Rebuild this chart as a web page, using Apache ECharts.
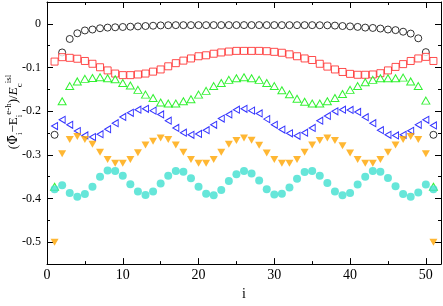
<!DOCTYPE html>
<html><head><meta charset="utf-8">
<script src="https://cdn.jsdelivr.net/npm/echarts@6/dist/echarts.min.js"></script>
<style>html,body{margin:0;padding:0;background:#fff}#c{width:443px;height:306px}</style>
</head><body><div id="c"></div>
<script>
const iValues = [1,2,3,4,5,6,7,8,9,10,11,12,13,14,15,16,17,18,19,20,21,22,23,24,25,26,27,28,29,30,31,32,33,34,35,36,37,38,39,40,41,42,43,44,45,46,47,48,49,50,51];

const blackCircles = [-0.254,-0.0655,-0.0346,-0.0216,-0.0151,-0.0130,-0.0101,-0.0086,-0.0079,-0.0072,
  -0.0065,-0.0058,-0.0050,-0.0043,-0.0036,-0.0032,-0.0030,-0.0030,-0.0030,-0.0030,
  -0.0030,-0.0029,-0.0029,-0.0029,-0.0029,-0.0029,-0.0029,-0.0029,-0.0029,-0.0029,
  -0.0030,-0.0030,-0.0030,-0.0030,-0.0030,-0.0032,-0.0034,-0.0040,-0.0050,-0.0058,
  -0.0070,-0.0086,-0.0094,-0.0108,-0.0130,-0.0144,-0.0180,-0.0223,-0.0331,-0.0648,-0.254];

const redSquares = [-0.0864,-0.0763,-0.0778,-0.0799,-0.0850,-0.0914,-0.0994,-0.1066,-0.1138,-0.1174,
  -0.1174,-0.1159,-0.1138,-0.1094,-0.1044,-0.0972,-0.0900,-0.0842,-0.0792,-0.0742,
  -0.0720,-0.0684,-0.0655,-0.0634,-0.0619,-0.0619,-0.0619,-0.0619,-0.0626,-0.0641,
  -0.0662,-0.0698,-0.0742,-0.0792,-0.0828,-0.0914,-0.0979,-0.1044,-0.1102,-0.1145,
  -0.1166,-0.1166,-0.1159,-0.1130,-0.1066,-0.0986,-0.0922,-0.0850,-0.0792,-0.0756,-0.0850];

const greenTriangles = [-0.373,-0.1771,-0.1425,-0.1318,-0.1260,-0.1238,-0.1224,-0.1246,-0.1267,-0.1353,
  -0.1411,-0.1512,-0.1620,-0.1699,-0.1800,-0.1822,-0.1822,-0.1771,-0.1728,-0.1620,
  -0.1534,-0.1425,-0.1353,-0.1282,-0.1246,-0.1224,-0.1246,-0.1282,-0.1353,-0.1425,
  -0.1519,-0.1613,-0.1713,-0.1785,-0.1822,-0.1822,-0.1771,-0.1699,-0.1605,-0.1512,
  -0.1425,-0.1339,-0.1282,-0.1246,-0.1246,-0.1246,-0.1231,-0.1318,-0.1425,-0.1757,-0.373];

const blueTriangles = [-0.2340,-0.2196,-0.2311,-0.2455,-0.2556,-0.2592,-0.2527,-0.2412,-0.2275,-0.2131,
  -0.2037,-0.1965,-0.1944,-0.1987,-0.2073,-0.2217,-0.2383,-0.2491,-0.2541,-0.2520,
  -0.2434,-0.2311,-0.2167,-0.2073,-0.1965,-0.1944,-0.1987,-0.2052,-0.2181,-0.2311,
  -0.2419,-0.2505,-0.2563,-0.2491,-0.2383,-0.2217,-0.2109,-0.2001,-0.1965,-0.1972,
  -0.2016,-0.2138,-0.2275,-0.2434,-0.2541,-0.2556,-0.2541,-0.2448,-0.2311,-0.2196,-0.2326];

const orangeTriangles = [-0.500,-0.2973,-0.2649,-0.2577,-0.2649,-0.2757,-0.2937,-0.3103,-0.3189,-0.3189,
  -0.3103,-0.2952,-0.2772,-0.2685,-0.2613,-0.2649,-0.2772,-0.2937,-0.3103,-0.3189,
  -0.3189,-0.3103,-0.2937,-0.2757,-0.2671,-0.2613,-0.2664,-0.2779,-0.2959,-0.3103,
  -0.3189,-0.3189,-0.3103,-0.2937,-0.2772,-0.2671,-0.2613,-0.2671,-0.2793,-0.2959,
  -0.3103,-0.3189,-0.3189,-0.3103,-0.2937,-0.2772,-0.2649,-0.2577,-0.2649,-0.2973,-0.500];

const cyanCircles = [-0.3787,-0.3693,-0.3873,-0.3960,-0.3895,-0.3729,-0.3499,-0.3355,-0.3369,-0.3477,
  -0.3672,-0.3837,-0.3917,-0.3837,-0.3657,-0.3477,-0.3369,-0.3384,-0.3535,-0.3729,
  -0.3888,-0.3924,-0.3801,-0.3600,-0.3441,-0.3369,-0.3427,-0.3585,-0.3787,-0.3909,
  -0.3888,-0.3744,-0.3549,-0.3391,-0.3369,-0.3477,-0.3643,-0.3837,-0.3924,-0.3873,
  -0.3679,-0.3499,-0.3369,-0.3384,-0.3527,-0.3715,-0.3895,-0.3960,-0.3859,-0.3679,-0.3787];

const xMajorTicks = [0,10,20,30,40,50];
const xMinorTicks = [5,15,25,35,45];
const yMajorTicks = [-0.5,-0.4,-0.3,-0.2,-0.1,0];
const yMinorTicks = [-0.55,-0.45,-0.35,-0.25,-0.15,-0.05,0.05];

const FONT = '"Liberation Serif","DejaVu Serif",serif';
const pairs = arr => iValues.map((x, k) => [x, arr[k]]);

function xAx(pos, ticks, len, showLine, showLabel, extra) {
  return Object.assign({
    type: 'value', min: 0, max: 52, position: pos,
    axisLine: { show: showLine, onZero: false, lineStyle: { color: '#000', width: 1 } },
    axisTick: { show: true, inside: true, length: len, customValues: ticks, lineStyle: { color: '#000', width: 1 } },
    axisLabel: { show: showLabel, customValues: ticks, color: '#000', fontFamily: FONT, fontSize: 14, margin: 4 },
    splitLine: { show: false }
  }, extra || {});
}
function yAx(pos, ticks, len, showLine, showLabel) {
  return {
    type: 'value', min: -0.55, max: 0.05, position: pos,
    axisLine: { show: showLine, onZero: false, lineStyle: { color: '#000', width: 1 } },
    axisTick: { show: true, inside: true, length: len, customValues: ticks, lineStyle: { color: '#000', width: 1 } },
    axisLabel: { show: showLabel, customValues: ticks, color: '#000', fontFamily: FONT, fontSize: 12, margin: 6,
      formatter: v => (Math.abs(v) < 1e-9 ? '0' : String(Math.round(v * 10) / 10)) },
    splitLine: { show: false }
  };
}

const openStyle = c => ({ color: '#fff', borderColor: c, borderWidth: 1 });

const option = {
  animation: false,
  backgroundColor: '#fff',
  grid: { left: 47, right: 2, top: 2, bottom: 29, containLabel: false },
  xAxis: [
    xAx('bottom', xMajorTicks, 6, true, true, {
      name: 'i', nameLocation: 'middle', nameGap: 18,
      nameTextStyle: { color: '#000', fontFamily: FONT, fontSize: 14 }
    }),
    xAx('bottom', xMinorTicks, 3, false, false),
    xAx('top', xMajorTicks, 6, true, false),
    xAx('top', xMinorTicks, 3, false, false)
  ],
  yAxis: [
    yAx('left', yMajorTicks, 6, true, true),
    yAx('left', yMinorTicks, 3, false, false),
    yAx('right', yMajorTicks, 6, true, false),
    yAx('right', yMinorTicks, 3, false, false)
  ],
  series: [
    { type: 'scatter', data: pairs(blackCircles), symbol: 'circle', symbolSize: 7, itemStyle: openStyle('#000') },
    { type: 'scatter', data: pairs(redSquares), symbol: 'rect', symbolSize: 7, itemStyle: openStyle('#ff2020') },
    { type: 'scatter', data: pairs(greenTriangles), symbol: 'path://M5,0L10,9L0,9Z', symbolSize: [8, 7], itemStyle: openStyle('#00ee00') },
    { type: 'scatter', data: pairs(blueTriangles), symbol: 'path://M0,5L9,0L9,10Z', symbolSize: [6, 7], itemStyle: openStyle('#0000ff') },
    { type: 'scatter', data: pairs(orangeTriangles), symbol: 'path://M0,0L10,0L5,9Z', symbolSize: [8, 7], itemStyle: { color: '#ffa500' } },
    { type: 'scatter', data: pairs(cyanCircles), symbol: 'circle', symbolSize: 8, itemStyle: { color: '#40e0d0' } }
  ],
  graphic: [{
    type: 'text', x: 14, y: 112, rotation: Math.PI / 2,
    style: {
      text: '{m|(}{dj|\u03A6\u0304}{sb|i}{m|\u2212E}{sb|i}{sp|e-h}{m|)/}{it|E}{sb|c}{sp|isl}',
      align: 'center', verticalAlign: 'middle', fill: '#000',
      rich: {
        m: { fontFamily: FONT, fontSize: 13, lineHeight: 20, fill: '#000' },
        dj: { fontFamily: '"DejaVu Serif",serif', fontSize: 12, lineHeight: 20, fill: '#000' },
        it: { fontFamily: FONT, fontSize: 13, lineHeight: 20, fontStyle: 'italic', fill: '#000' },
        sb: { fontFamily: FONT, fontSize: 9, lineHeight: 9, verticalAlign: 'bottom', fill: '#000' },
        sp: { fontFamily: FONT, fontSize: 9, lineHeight: 9, verticalAlign: 'top', fill: '#000' }
      }
    }
  }]
};
echarts.init(document.getElementById('c')).setOption(option);
</script></body></html>
